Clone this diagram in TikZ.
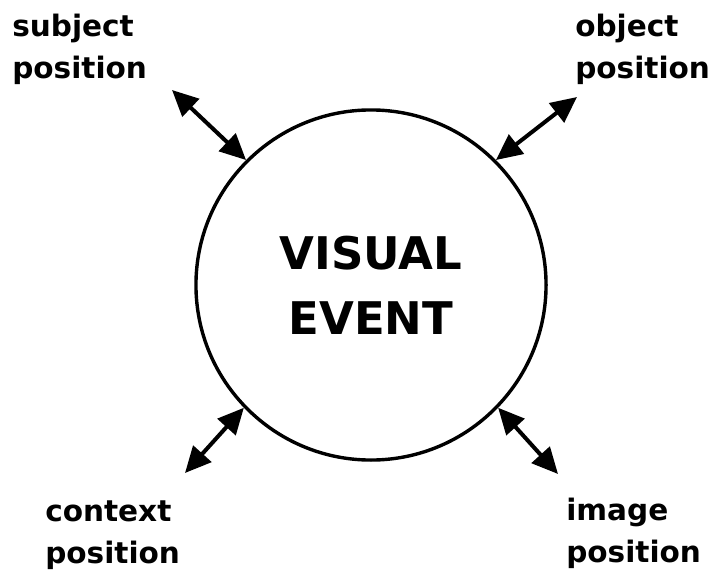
\documentclass[tikz,border=0pt]{standalone}
\usepackage{fontspec}
\setmainfont{DejaVu Sans}
\usetikzlibrary{arrows.meta,positioning}

\begin{document}
\begin{tikzpicture}[x=0.025cm,y=-0.025cm,>={Triangle[length=0.65cm,width=0.6cm]}]
  \tikzstyle{lbl}=[align=left,font=\bfseries\fontsize{21}{30}\selectfont,inner sep=0pt]
  \tikzstyle{link}=[line width=0.1cm,<->]
  \useasboundingbox (0,0) rectangle (714,571);
  \node[draw,circle,line width=0.085cm,minimum size=8.75cm,inner sep=0pt,align=center,
    font=\bfseries\fontsize{32}{46}\selectfont] (ev) at (371,285) {VISUAL\\EVENT};
  \node[lbl,anchor=north west] (subj) at (12,14) {subject\\position};
  \node[lbl,anchor=north west] (obj) at (575,14) {object\\position};
  \node[lbl,anchor=north west] (ctx) at (45,500) {context\\position};
  \node[lbl,anchor=north west] (img) at (566,498) {image\\position};
  \coordinate (subjend) at (172,90);
  \coordinate (objend) at (577,97);
  \coordinate (ctxend) at (185,473);
  \coordinate (imgend) at (558,474);
  \draw[link] (subjend) -- (ev.135);
  \draw[link] (objend) -- (ev.45);
  \draw[link] (ctxend) -- (ev.224);
  \draw[link] (imgend) -- (ev.-44);
\end{tikzpicture}
\end{document}
